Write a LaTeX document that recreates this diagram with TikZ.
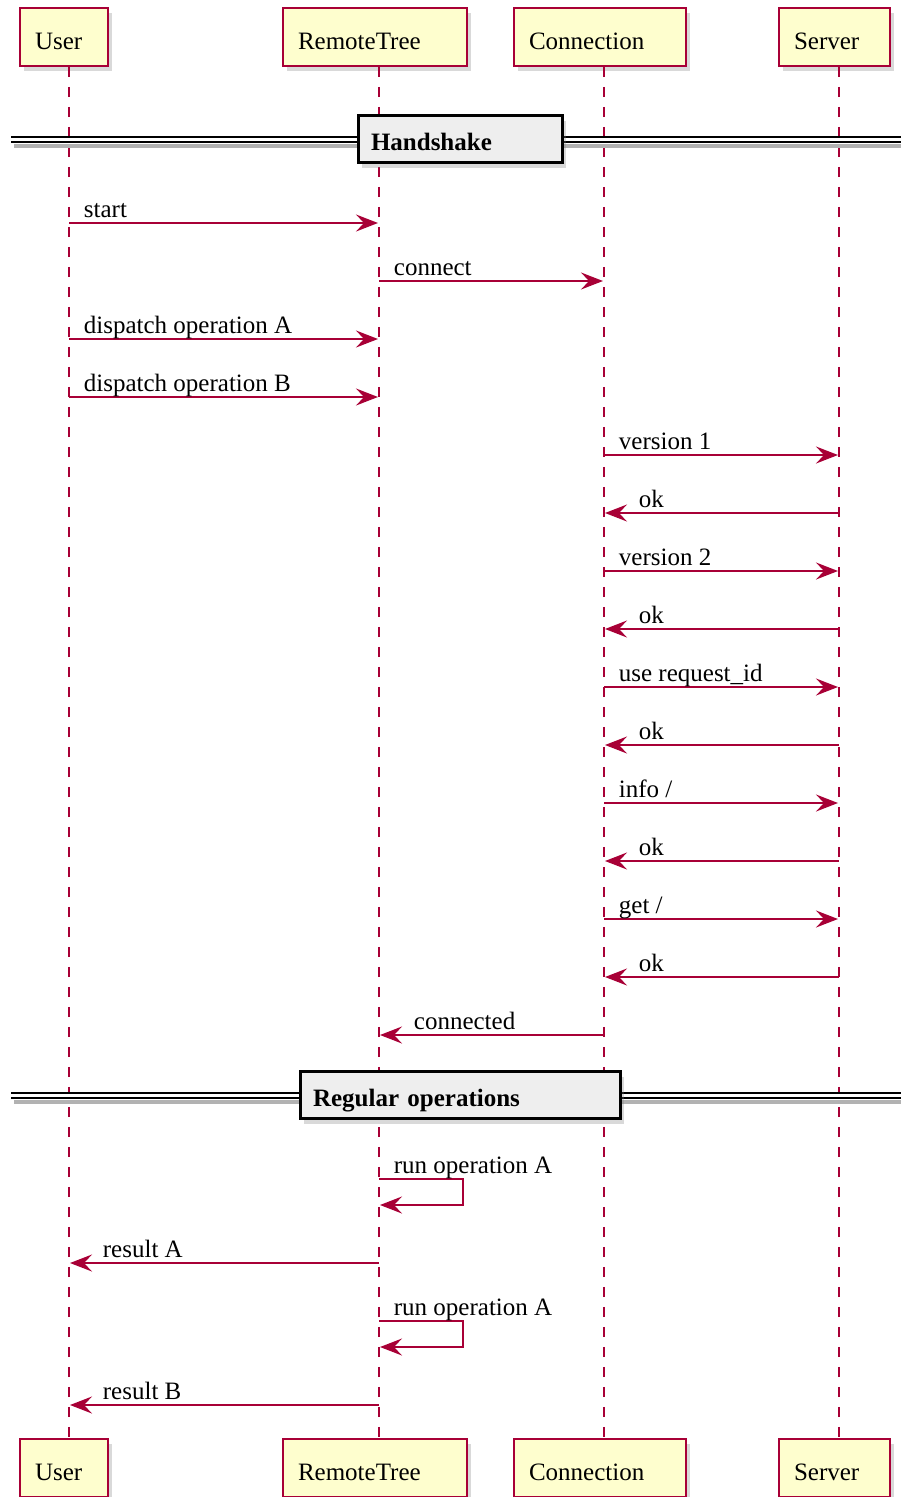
\documentclass[tikz,border=0pt]{standalone}
\usepackage{fontspec}
\setmainfont{Liberation Serif}
\usetikzlibrary{arrows.meta,shadows}
\definecolor{ActorRed}{RGB}{168,0,54}
\definecolor{BoxYellow}{RGB}{254,254,206}
\definecolor{DividerGrey}{RGB}{238,238,238}

\tikzset{
  participant/.style={draw=ActorRed,fill=BoxYellow,line width=1.6pt,
    minimum height=58pt,inner xsep=15pt,align=left,text width=#1,
    text height=29pt,text depth=4pt,
    drop shadow={shadow xshift=4pt,shadow yshift=-5pt,opacity=.3}},
  lifeline/.style={draw=ActorRed,line width=1.6pt,dash pattern=on 10pt off 10pt},
  msg/.style={draw=ActorRed,line width=1.8pt,shorten >=1pt,
    -{Stealth[length=22pt,width=17pt,inset=8pt]}},
  msglabel/.style={anchor=base west,inner sep=0pt,yshift=6pt},
  divider/.style={draw=black,fill=DividerGrey,line width=3pt,
    minimum height=47pt,inner xsep=13pt,align=left,text width=#1,
    text height=26pt,text depth=4pt,
    font=\fontsize{25}{30}\selectfont\bfseries,
    drop shadow={shadow xshift=4pt,shadow yshift=-5pt,opacity=.3}},
  dividerline/.style={line width=1.8pt,double=white,double distance=3.5pt}
}

\begin{document}
\begin{tikzpicture}[x=1pt,y=-1pt,font=\fontsize{25}{30}\selectfont]
  \useasboundingbox (0,0) rectangle (901,1497);

  % lifeline positions
  \coordinate (user) at (69,0);
  \coordinate (tree) at (379,0);
  \coordinate (conn) at (604,0);
  \coordinate (server) at (839,0);

  % participants, top and bottom
  \node[participant=58pt] (userTop) at (64,37) {User};
  \node[participant=154pt] (treeTop) at (375,37) {RemoteTree};
  \node[participant=142pt] (connTop) at (600,37) {Connection};
  \node[participant=81pt] (serverTop) at (834.5,37) {Server};
  \node[participant=58pt] (userBot) at (64,1468) {User};
  \node[participant=154pt] (treeBot) at (375,1468) {RemoteTree};
  \node[participant=142pt] (connBot) at (600,1468) {Connection};
  \node[participant=81pt] (serverBot) at (834.5,1468) {Server};

  \draw[lifeline] (user |- userTop.south) -- (user |- userBot.north);
  \draw[lifeline] (tree |- treeTop.south) -- (tree |- treeBot.north);
  \draw[lifeline] (conn |- connTop.south) -- (conn |- connBot.north);
  \draw[lifeline] (server |- serverTop.south) -- (server |- serverBot.north);

  % Handshake
  \draw[black!30,line width=4pt] (14,146) -- (901,146);
  \draw[dividerline] (11,139.5) -- (901,139.5);
  \node[divider=178pt] (handshake) at (460,139) {Handshake};

  \draw[msg] (user |- 0,223) -- (tree |- 0,223)
    node[msglabel,pos=0,xshift=14pt] {start};
  \draw[msg] (tree |- 0,281) -- (conn |- 0,281)
    node[msglabel,pos=0,xshift=14pt] {connect};
  \draw[msg] (user |- 0,339) -- (tree |- 0,339)
    node[msglabel,pos=0,xshift=14pt] {dispatch operation A};
  \draw[msg] (user |- 0,397) -- (tree |- 0,397)
    node[msglabel,pos=0,xshift=14pt] {dispatch operation B};
  \draw[msg] (conn |- 0,455) -- (server |- 0,455)
    node[msglabel,pos=0,xshift=14pt] {version 1};
  \draw[msg] (server |- 0,513) -- (conn |- 0,513)
    node[msglabel,pos=1,xshift=34pt] {ok};
  \draw[msg] (conn |- 0,571) -- (server |- 0,571)
    node[msglabel,pos=0,xshift=14pt] {version 2};
  \draw[msg] (server |- 0,629) -- (conn |- 0,629)
    node[msglabel,pos=1,xshift=34pt] {ok};
  \draw[msg] (conn |- 0,687) -- (server |- 0,687)
    node[msglabel,pos=0,xshift=14pt] {use request\_id};
  \draw[msg] (server |- 0,745) -- (conn |- 0,745)
    node[msglabel,pos=1,xshift=34pt] {ok};
  \draw[msg] (conn |- 0,803) -- (server |- 0,803)
    node[msglabel,pos=0,xshift=14pt] {info /};
  \draw[msg] (server |- 0,861) -- (conn |- 0,861)
    node[msglabel,pos=1,xshift=34pt] {ok};
  \draw[msg] (conn |- 0,919) -- (server |- 0,919)
    node[msglabel,pos=0,xshift=14pt] {get /};
  \draw[msg] (server |- 0,977) -- (conn |- 0,977)
    node[msglabel,pos=1,xshift=34pt] {ok};
  \draw[msg] (conn |- 0,1035) -- (tree |- 0,1035)
    node[msglabel,pos=1,xshift=34pt] {connected};

  % Regular operations
  \draw[black!30,line width=4pt] (14,1102) -- (901,1102);
  \draw[dividerline] (11,1095.5) -- (901,1095.5);
  \node[divider=294pt] (regular) at (460,1095) {Regular operations};

  \draw[msg] (tree |- 0,1179) node[msglabel,xshift=14pt] {run operation A}
    -- ([xshift=84pt]tree |- 0,1179) -- ([xshift=84pt]tree |- 0,1205)
    -- (tree |- 0,1205);
  \draw[msg] (tree |- 0,1263) -- (user |- 0,1263)
    node[msglabel,pos=1,xshift=33pt] {result A};
  \draw[msg] (tree |- 0,1321) node[msglabel,xshift=14pt] {run operation A}
    -- ([xshift=84pt]tree |- 0,1321) -- ([xshift=84pt]tree |- 0,1347)
    -- (tree |- 0,1347);
  \draw[msg] (tree |- 0,1405) -- (user |- 0,1405)
    node[msglabel,pos=1,xshift=33pt] {result B};
\end{tikzpicture}
\end{document}
